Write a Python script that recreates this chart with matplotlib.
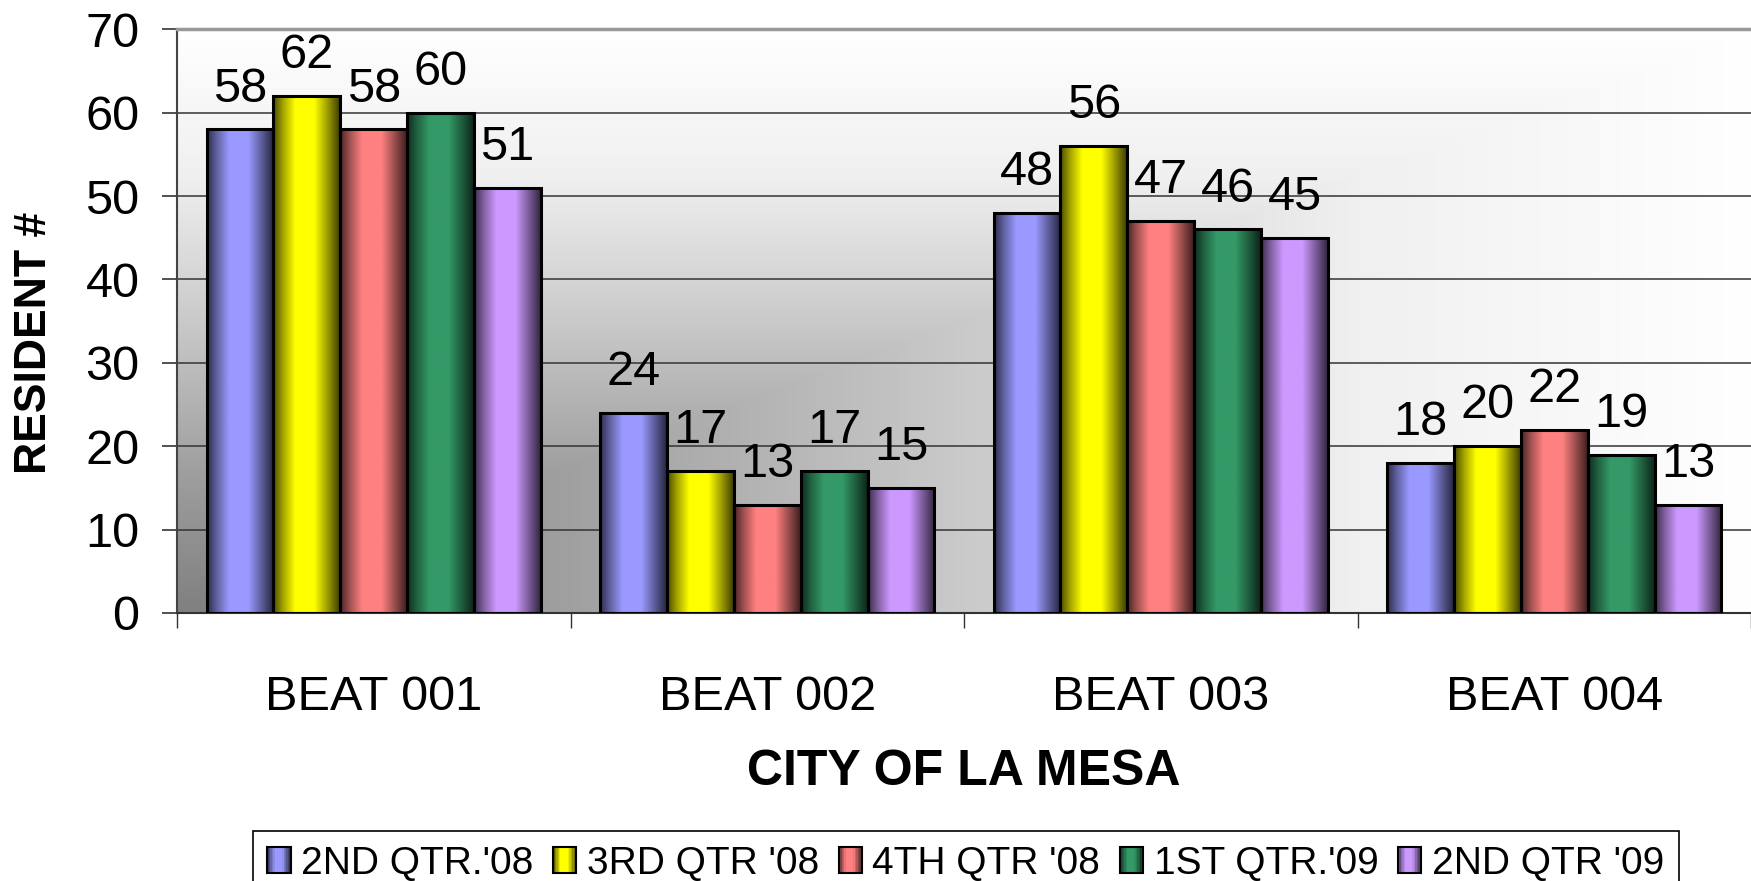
import matplotlib.pyplot as plt
import numpy as np
from matplotlib.colors import to_rgb
from matplotlib.legend_handler import HandlerBase
from matplotlib.patches import Patch, Rectangle

beats = ["BEAT 001", "BEAT 002", "BEAT 003", "BEAT 004"]
quarters = ["2ND QTR.'08", "3RD QTR '08", "4TH QTR '08", "1ST QTR.'09", "2ND QTR '09"]
q2_08 = [58, 24, 48, 18]
q3_08 = [62, 17, 56, 20]
q4_08 = [58, 13, 47, 22]
q1_09 = [60, 17, 46, 19]
q2_09 = [51, 15, 45, 13]
colors = ["#9999FF", "#FFFF00", "#FF8080", "#339966", "#CC99FF"]
series = [q2_08, q3_08, q4_08, q1_09, q2_09]

plt.rcParams['font.family'] = 'Liberation Sans'

# shading across each bar (dark edges, light middle)
shade_s = [0, 0.15, 0.33, 0.62, 0.8, 1]
shade_f = [0.3, 0.65, 1, 1, 0.65, 0.25]


class GradientHandler(HandlerBase):
    # legend key drawn as thin strips so it gets the same shading as the bars
    def __init__(self, color, **kw):
        super().__init__(**kw)
        self.rgb = np.array(to_rgb(color))

    def create_artists(self, legend, orig_handle, xdescent, ydescent, width, height,
                       fontsize, trans):
        arts = []
        k = 16
        for j in range(k):
            f = np.interp((j + 0.5) / k, shade_s, shade_f)
            arts.append(Rectangle((-xdescent + j * width / k, -ydescent), width / k, height,
                                  facecolor=f * self.rgb, edgecolor='none', transform=trans))
        arts.append(Rectangle((-xdescent, -ydescent), width, height, facecolor='none',
                              edgecolor='black', linewidth=1.5, transform=trans))
        return arts


W, H = 1751, 881
fig = plt.figure(figsize=(W / 100, H / 100), dpi=100)
ax = fig.add_axes([177 / W, 1 - 613 / H, 1 - 177 / W, (613 - 29.3) / H])

# plot area fill: grey in the lower left corner fading to white
n = 400
u = np.linspace(0, 1, n)
t = np.maximum(u[None, :], u[::-1, None])
bg = np.interp(t, [0, 0.25, 0.5, 0.75, 1], [128, 160, 202, 240, 255]) / 255
ax.imshow(np.dstack([bg] * 3), extent=[0, 1, 0, 1], transform=ax.transAxes,
          aspect='auto', zorder=0, interpolation='bilinear')

shade = np.interp(np.linspace(0, 1, 64), shade_s, shade_f)

x = np.arange(len(beats))
w = 0.17
for i, (vals, c) in enumerate(zip(series, colors)):
    bars = ax.bar(x + (i - 2) * w, vals, w, color='none', edgecolor='black',
                  linewidth=2.2, zorder=3)
    grad = (shade[:, None] * np.array(to_rgb(c)))[None, :, :]
    for b, v in zip(bars, vals):
        ax.imshow(grad, extent=[b.get_x(), b.get_x() + b.get_width(), 0, b.get_height()],
                  aspect='auto', zorder=2, interpolation='bilinear')
        ax.annotate(str(v), (b.get_x() + b.get_width() / 2, v), xytext=(0, 20),
                    textcoords='offset points', ha='center', va='baseline', fontsize=35)

ax.set_xlim(-0.5, 3.5)
ax.set_ylim(0, 70)
ax.set_yticks(range(0, 71, 10))
ax.set_xticks(np.arange(-0.5, 4, 1))
ax.set_xticklabels([])
ax.set_xticks(x, beats, minor=True)
ax.tick_params(axis='x', which='major', length=11, width=1, color='#333333')
ax.tick_params(axis='x', which='minor', length=0, pad=45, labelsize=35)
ax.tick_params(axis='y', length=11, width=1.2, color='#333333', pad=16, labelsize=35)

ax.yaxis.grid(True, color='#333333', linewidth=1.1)
ax.set_axisbelow(True)
ax.spines['right'].set_visible(False)
ax.spines['top'].set_color('#999999')
ax.spines['top'].set_linewidth(2.5)
ax.spines['left'].set_color('#444444')
ax.spines['left'].set_linewidth(1.5)
ax.spines['bottom'].set_color('#333333')
ax.spines['bottom'].set_linewidth(1.5)

fig.text(34.5 / W, 1 - 343 / H, "RESIDENT #", rotation=90, ha='center', va='center',
         fontsize=32, fontweight='bold')
ax.set_xlabel("CITY OF LA MESA", fontsize=36, fontweight='bold')
ax.xaxis.set_label_coords(0.5, -(785 - 613) / (613 - 29.3))
ax.xaxis.label.set_va('baseline')

handles = [Patch(facecolor=c, edgecolor='black') for c in colors]
leg = fig.legend(handles, quarters, loc='upper left', bbox_to_anchor=(252.7 / W, 1 - 831 / H),
                 ncol=5, fontsize=28, frameon=True, fancybox=False, edgecolor='black',
                 framealpha=1, handlelength=0.6, handleheight=0.65, handletextpad=0.27,
                 columnspacing=0.5, borderpad=0.38, borderaxespad=0,
                 handler_map={h: GradientHandler(c) for h, c in zip(handles, colors)})
leg.get_frame().set_linewidth(1.2)

fig.savefig("out.png", dpi=100)
